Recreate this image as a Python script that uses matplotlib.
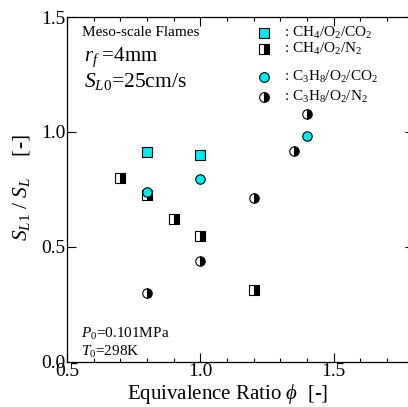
import numpy as np
import matplotlib
matplotlib.use("Agg")
import matplotlib.pyplot as plt
from matplotlib.ticker import MultipleLocator

plt.rcParams['font.family'] = ['Liberation Serif', 'DejaVu Serif']
plt.rcParams['mathtext.fontset'] = 'custom'
plt.rcParams['mathtext.rm'] = 'Liberation Serif'
plt.rcParams['mathtext.it'] = 'Liberation Serif:italic'

# equivalence ratio and normalised flame speed for each mixture
phi_ch4_co2 = [0.8, 1.0]
sl_ch4_co2 = [0.913, 0.899]

phi_ch4_n2 = [0.7, 0.8, 0.9, 1.0, 1.2]
sl_ch4_n2 = [0.797, 0.725, 0.622, 0.548, 0.313]

phi_c3h8_co2 = [0.8, 1.0, 1.4]
sl_c3h8_co2 = [0.737, 0.793, 0.98]

phi_c3h8_n2 = [0.8, 1.0, 1.2, 1.35, 1.4]
sl_c3h8_n2 = [0.30, 0.436, 0.712, 0.916, 1.077]

labels = [r': CH$_4$/O$_2$/CO$_2$', r': CH$_4$/O$_2$/N$_2$',
          r': C$_3$H$_8$/O$_2$/CO$_2$', r': C$_3$H$_8$/O$_2$/N$_2$']

fig = plt.figure(figsize=(4.08, 4.07), dpi=100)
ax = fig.add_axes([67/408, 45.5/407, 346.5/408, 344.5/407])

cyan = '#00eaf0'
ms = 6.8
ax.plot(phi_ch4_co2, sl_ch4_co2, 's', ms=ms, mfc=cyan, mec='k', mew=0.8, zorder=3)
ax.plot(phi_ch4_n2, sl_ch4_n2, 's', ms=ms, fillstyle='right', mfc='k',
        mfcalt='white', mec='k', mew=0.8, zorder=3)
ax.plot(phi_c3h8_co2, sl_c3h8_co2, 'o', ms=ms, mfc=cyan, mec='k', mew=0.8, zorder=4)
ax.plot(phi_c3h8_n2, sl_c3h8_n2, 'o', ms=ms, fillstyle='right', mfc='k',
        mfcalt='white', mec='k', mew=0.8, zorder=3)

ax.set_xlim(0.5, 1.8)
ax.set_ylim(0.0, 1.5)
ax.xaxis.set_minor_locator(MultipleLocator(0.1))
ax.set_xticks([0.5, 1.0, 1.5])
ax.set_xticklabels(['0.5', '1.0', '1.5'])
ax.set_yticks([0.0, 0.5, 1.0, 1.5])
ax.set_yticklabels(['0.0', '0.5', '1.0', '1.5'])
ax.tick_params(which='both', direction='in', top=True, right=True, labelsize=14, width=0.8)
ax.tick_params(which='major', length=6.5, pad=1)
ax.tick_params(which='minor', length=3)
for s in ax.spines.values():
    s.set_linewidth(0.9)

fig.text(228/408, 1 - 394/407, r'Equivalence Ratio $\phi$  [-]', fontsize=15,
         ha='center', va='center')
fig.text(22/408, 1 - 188/407, r'$S_{L1}$ / $S_L$    [-]', fontsize=15.5,
         rotation=90, ha='center', va='center')

tr = ax.transAxes
def px(x, y):
    # pixel position inside the frame -> axes fraction
    return ((x - 67) / 346.5, (361.5 - y) / 344.5)

# condition notes inside the frame
ax.text(*px(82, 33), 'Meso-scale Flames', fontsize=11, transform=tr, va='center')
ax.text(*px(84, 57), r'$r_f$ =4mm', fontsize=15, transform=tr, va='center')
ax.text(*px(84, 82), r'$S_{L0}$=25cm/s', fontsize=15.5, transform=tr, va='center')
ax.text(*px(81, 334), r'$P_0$=0.101MPa', fontsize=11, transform=tr, va='center')
ax.text(*px(81, 352), r'$T_0$=298K', fontsize=11, transform=tr, va='center')

# legend drawn by hand
rows = [33, 49, 77, 97]
kw = [dict(marker='s', mfc=cyan),
      dict(marker='s', fillstyle='right', mfc='k', mfcalt='white'),
      dict(marker='o', mfc=cyan),
      dict(marker='o', fillstyle='right', mfc='k', mfcalt='white')]
for y, lab, k in zip(rows, labels, kw):
    ax.plot(*px(264, y), ls='none', ms=7, mec='k', mew=0.8, transform=tr,
            clip_on=False, **k)
    ax.text(*px(284, y), lab, fontsize=11, transform=tr, va='center')

fig.savefig('out.png', dpi=100)
